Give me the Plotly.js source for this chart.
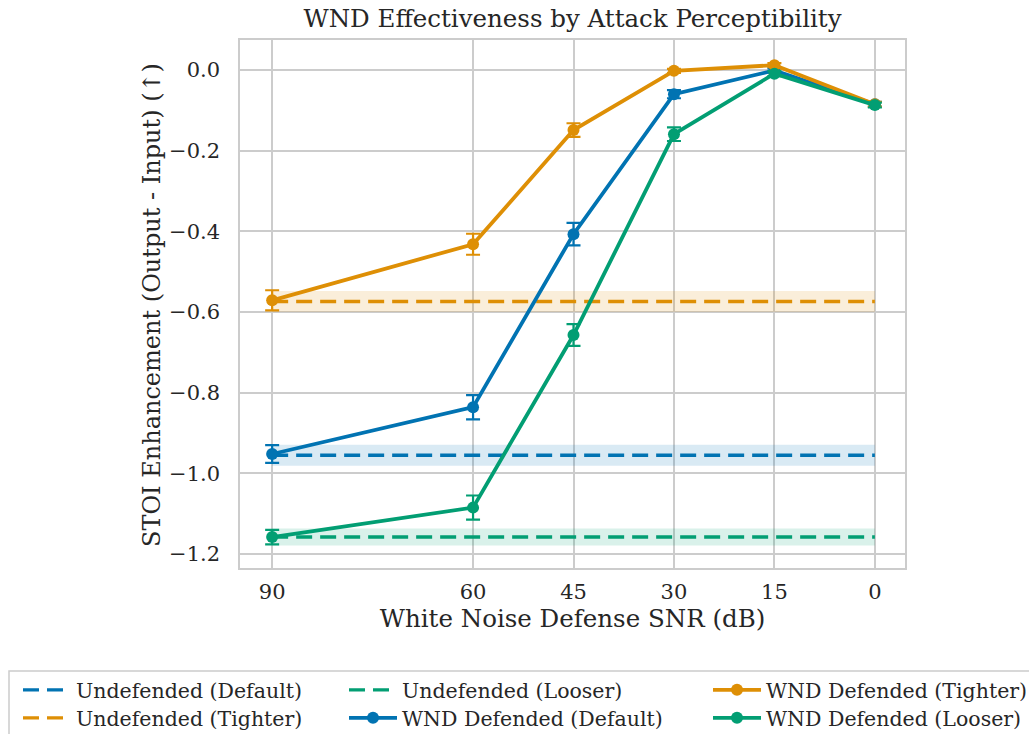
<!DOCTYPE html>
<html>
<head>
<meta charset="utf-8">
<script src="https://cdn.plot.ly/plotly-3.0.1.min.js"></script>
<style>html,body{margin:0;padding:0;background:#fff;}#chart{width:1029px;height:734px;}</style>
</head>
<body>
<div id="chart"></div>
<script>
// ---- data ----
const snrLevels = [90, 60, 45, 30, 15, 0];
const snrLabels = ['90', '60', '45', '30', '15', '0'];

const wndDefault = [-0.952, -0.836, -0.407, -0.060, -0.001, -0.085];
const wndDefaultErr = [0.022, 0.030, 0.028, 0.010, 0.005, 0.006];
const wndTighter = [-0.571, -0.432, -0.149, -0.002, 0.012, -0.085];
const wndTighterErr = [0.025, 0.026, 0.017, 0.005, 0.005, 0.006];
const wndLooser = [-1.158, -1.085, -0.657, -0.159, -0.009, -0.087];
const wndLooserErr = [0.018, 0.030, 0.027, 0.017, 0.006, 0.006];

const undefDefault = -0.955, undefDefaultErr = 0.026;
const undefTighter = -0.574, undefTighterErr = 0.026;
const undefLooser = -1.158, undefLooserErr = 0.021;

const cBlue = '#0173b2', cOrange = '#de8f05', cGreen = '#029e73';
const FONT = 'DejaVu Serif';
const W = 1029, H = 734, L = 240, R = 905, T = 40, B = 568;
const px2x = p => (p - L) / (R - L);
const px2y = p => (B - p) / (B - T);

const xEnds = [snrLevels[0], snrLevels[snrLevels.length - 1]];

function band(mean, err, color) {
  return {
    x: [xEnds[0], xEnds[1], xEnds[1], xEnds[0]],
    y: [mean + err, mean + err, mean - err, mean - err],
    type: 'scatter', mode: 'lines', fill: 'toself',
    fillcolor: color, line: {width: 0}, showlegend: false, hoverinfo: 'skip'
  };
}
function undefLine(mean, color, name, lg) {
  return {
    x: xEnds, y: [mean, mean], type: 'scatter', mode: 'lines', name: name,
    line: {color: color, width: 3.4, dash: '16px,8px'}, legend: lg
  };
}
function wnd(vals, errs, color, name, lg) {
  return {
    x: snrLevels, y: vals, type: 'scatter', mode: 'lines+markers', name: name,
    line: {color: color, width: 3.8}, marker: {color: color, size: 12},
    error_y: {type: 'data', array: errs, visible: true, color: color, thickness: 2.2, width: 7},
    legend: lg
  };
}

const traces = [
  band(undefDefault, undefDefaultErr, 'rgba(1,115,178,0.15)'),
  undefLine(undefDefault, cBlue, 'Undefended (Default)', 'legend'),
  band(undefTighter, undefTighterErr, 'rgba(222,143,5,0.15)'),
  undefLine(undefTighter, cOrange, 'Undefended (Tighter)', 'legend2'),
  band(undefLooser, undefLooserErr, 'rgba(2,158,115,0.15)'),
  undefLine(undefLooser, cGreen, 'Undefended (Looser)', 'legend3'),
  wnd(wndDefault, wndDefaultErr, cBlue, 'WND Defended (Default)', 'legend4'),
  wnd(wndTighter, wndTighterErr, cOrange, 'WND Defended (Tighter)', 'legend5'),
  wnd(wndLooser, wndLooserErr, cGreen, 'WND Defended (Looser)', 'legend6')
];

function leg(textX, cy) {
  return {
    x: (textX - 59) / W, y: 1 - cy / H, xref: 'container', yref: 'container',
    xanchor: 'left', yanchor: 'middle',
    bgcolor: 'rgba(0,0,0,0)', borderwidth: 0, itemwidth: 48,
    font: {family: FONT, size: 20.5, color: '#262626'}
  };
}

const layout = {
  width: W, height: H,
  margin: {l: L, r: W - R, t: T, b: H - B, pad: 0, autoexpand: false},
  paper_bgcolor: '#fff', plot_bgcolor: '#fff',
  font: {family: FONT, color: '#262626'},
  title: {text: 'WND Effectiveness by Attack Perceptibility', font: {family: FONT, size: 24.5, color: '#262626'},
          x: 0.5, xref: 'paper', y: 1 - 18 / H, yref: 'container', yanchor: 'middle'},
  xaxis: {
    range: [94.8, -4.5], tickvals: snrLevels, ticktext: snrLabels, automargin: false,
    showgrid: true, gridcolor: '#cccccc', gridwidth: 1.5, zeroline: false,
    showline: true, linecolor: '#cccccc', linewidth: 1.5, mirror: true, tickangle: 0,
    ticks: '', ticklabelstandoff: 4, tickfont: {family: FONT, size: 21, color: '#262626'},
    title: {text: 'White Noise Defense SNR (dB)', font: {family: FONT, size: 24.5, color: '#262626'}, standoff: 6}
  },
  yaxis: {
    range: [-1.2347, 0.0744], dtick: 0.2, tick0: 0, tickformat: '.1f', automargin: false,
    showgrid: true, gridcolor: '#cccccc', gridwidth: 1.5, zeroline: false,
    showline: true, linecolor: '#cccccc', linewidth: 1.5, mirror: true,
    ticks: '', ticklabelstandoff: 14, tickfont: {family: FONT, size: 21, color: '#262626'}
  },
  annotations: [{
    text: 'STOI Enhancement (Output - Input) (↑)', textangle: -90, showarrow: false,
    xref: 'paper', yref: 'paper', x: px2x(152), y: px2y(305), xanchor: 'center', yanchor: 'middle',
    font: {family: FONT, size: 24, color: '#262626'}
  }],
  legend: leg(77, 690),
  legend2: leg(77, 718),
  legend3: leg(403, 690),
  legend4: leg(403, 718),
  legend5: leg(767, 690),
  legend6: leg(767, 718),
  shapes: [{
    type: 'rect', xref: 'paper', yref: 'paper',
    x0: px2x(9), x1: px2x(1040), y0: px2y(671), y1: px2y(745),
    line: {color: '#cccccc', width: 1.5}, fillcolor: 'rgba(0,0,0,0)', layer: 'above'
  }]
};

Plotly.newPlot('chart', traces, layout, {displayModeBar: false, responsive: false});
</script>
</body>
</html>
